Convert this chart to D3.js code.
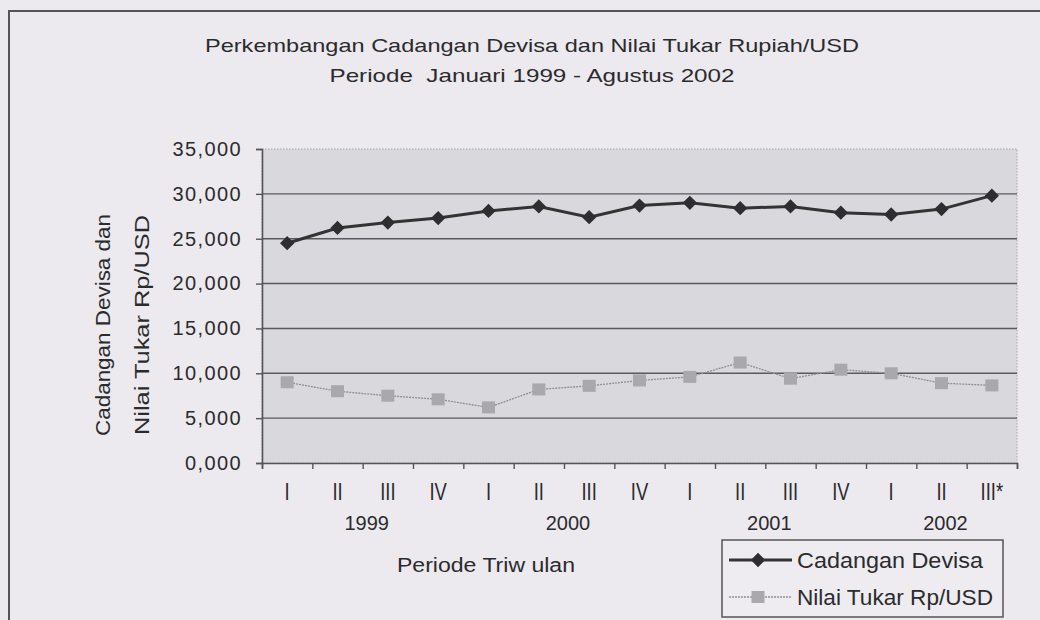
<!DOCTYPE html>
<html>
<head>
<meta charset="utf-8">
<script src="https://cdn.jsdelivr.net/npm/d3@7"></script>
<style>
  body { margin: 0; background: #eceaef; }
  svg { display: block; font-family: "Liberation Sans", Arial, sans-serif; }
</style>
</head>
<body>
<div id="chart"></div>
<script>
// data
const quarters = ["I", "II", "III", "IV", "I", "II", "III", "IV", "I", "II", "III", "IV", "I", "II", "III*"];
const years = ["1999", "2000", "2001", "2002"];
const yearStart = [0, 4, 8, 12];
const yearEnd = [3, 7, 11, 14];
const cadangan = [24500, 26200, 26800, 27300, 28100, 28600, 27400, 28700, 29000, 28400, 28600, 27900, 27700, 28300, 29800];
const nilaiTukar = [9000, 8000, 7500, 7100, 6200, 8200, 8600, 9200, 9600, 11200, 9400, 10400, 10000, 8900, 8650];
const yTicks = [0, 5000, 10000, 15000, 20000, 25000, 30000, 35000];
const yTickLabels = ["0,000", "5,000", "10,000", "15,000", "20,000", "25,000", "30,000", "35,000"];
const seriesNames = ["Cadangan Devisa", "Nilai Tukar Rp/USD"];

const W = 1040, H = 620;
const plot = { left: 262, right: 1017, top: 149, bottom: 463 };
const ink = "#2b2b2d";

const svg = d3.select("#chart").append("svg")
  .attr("width", W).attr("height", H);

svg.append("rect").attr("width", W).attr("height", H).attr("fill", "#eceaef");

// outer frame (runs off the right and bottom edges)
svg.append("path")
  .attr("d", `M9,${H + 5}V11H${W + 5}`)
  .attr("fill", "none").attr("stroke", "#555").attr("stroke-width", 2);

const x = d3.scaleBand().domain(d3.range(quarters.length)).range([plot.left, plot.right]);
const xEdge = d3.scaleLinear().domain([0, quarters.length]).range([plot.left, plot.right]);
const y = d3.scaleLinear().domain([0, 35000]).range([plot.bottom, plot.top]);
const cx = i => x(i) + x.bandwidth() / 2;

// plot area
svg.append("rect")
  .attr("x", plot.left).attr("y", plot.top)
  .attr("width", plot.right - plot.left).attr("height", plot.bottom - plot.top)
  .attr("fill", "#d9d8dc")
  .attr("stroke", "#a9a8ad").attr("stroke-dasharray", "1.5,1.5");

// gridlines
svg.append("g")
  .selectAll("line")
  .data(yTicks.filter(v => v > 0 && v < 35000))
  .join("line")
  .attr("x1", plot.left).attr("x2", plot.right)
  .attr("y1", d => y(d)).attr("y2", d => y(d))
  .attr("stroke", "#5a5a5e").attr("stroke-width", 1.4);

// y axis
const yAxis = svg.append("g")
  .attr("transform", `translate(${plot.left},0)`)
  .call(d3.axisLeft(y).tickValues(yTicks).tickSize(6).tickPadding(14)
    .tickFormat((d, i) => yTickLabels[i]));
yAxis.select(".domain").attr("stroke", "#555").attr("stroke-width", 1.6);
yAxis.selectAll(".tick line").attr("stroke", "#555").attr("stroke-width", 1.4);
yAxis.selectAll(".tick text")
  .attr("fill", ink).style("font-size", "20px").style("letter-spacing", "1.4px");

// x axis: ticks on category edges
const xAxis = svg.append("g")
  .attr("transform", `translate(0,${plot.bottom})`)
  .call(d3.axisBottom(xEdge).tickValues(d3.range(quarters.length + 1)).tickSize(6).tickFormat(""));
xAxis.select(".domain").attr("stroke", "#555").attr("stroke-width", 1.6);
xAxis.selectAll(".tick line").attr("stroke", "#555").attr("stroke-width", 1.4);

svg.append("g")
  .selectAll("text")
  .data(quarters)
  .join("text")
  .attr("transform", (d, i) => `translate(${cx(i)},500) scale(0.8,1)`)
  .attr("text-anchor", "middle")
  .attr("fill", ink).style("font-size", "23px")
  .text(d => d);

svg.append("g")
  .selectAll("text")
  .data(years)
  .join("text")
  .attr("x", (d, i) => (cx(yearStart[i]) + cx(yearEnd[i])) / 2 + 4)
  .attr("y", 530)
  .attr("text-anchor", "middle")
  .attr("fill", ink).style("font-size", "20px")
  .text(d => d);

// lines
const line = d3.line().x((d, i) => cx(i)).y(d => y(d));

svg.append("path")
  .datum(nilaiTukar)
  .attr("d", line)
  .attr("fill", "none").attr("stroke", "#8f8f93").attr("stroke-width", 1.3)
  .attr("stroke-dasharray", "2,1");

svg.append("g")
  .selectAll("rect")
  .data(nilaiTukar)
  .join("rect")
  .attr("x", (d, i) => cx(i) - 6.5).attr("y", d => y(d) - 6)
  .attr("width", 13).attr("height", 12)
  .attr("fill", "#a9a8ac");

svg.append("path")
  .datum(cadangan)
  .attr("d", line)
  .attr("fill", "none").attr("stroke", "#333").attr("stroke-width", 3);

const diamond = d3.symbol().type(d3.symbolDiamond2).size(130);
svg.append("g")
  .selectAll("path")
  .data(cadangan)
  .join("path")
  .attr("transform", (d, i) => `translate(${cx(i)},${y(d)})`)
  .attr("d", diamond)
  .attr("fill", "#2e2e30");

// titles
svg.append("text")
  .attr("x", 532).attr("y", 52)
  .attr("text-anchor", "middle")
  .attr("fill", ink).style("font-size", "19px")
  .attr("textLength", 654).attr("lengthAdjust", "spacingAndGlyphs")
  .text("Perkembangan Cadangan Devisa dan Nilai Tukar Rupiah/USD");

svg.append("text")
  .attr("x", 532).attr("y", 82)
  .attr("text-anchor", "middle")
  .attr("fill", ink).style("font-size", "19px").style("white-space", "pre")
  .attr("textLength", 405).attr("lengthAdjust", "spacingAndGlyphs")
  .text("Periode  Januari 1999 - Agustus 2002");

svg.append("text")
  .attr("x", 486).attr("y", 572)
  .attr("text-anchor", "middle")
  .attr("fill", ink).style("font-size", "20px")
  .attr("textLength", 178).attr("lengthAdjust", "spacingAndGlyphs")
  .text("Periode Triw ulan");

const yTitle = svg.append("g").attr("transform", "translate(0,325) rotate(-90)");
yTitle.append("text")
  .attr("x", 0).attr("y", 110)
  .attr("text-anchor", "middle")
  .attr("fill", ink).style("font-size", "20px")
  .attr("textLength", 222).attr("lengthAdjust", "spacingAndGlyphs")
  .text("Cadangan Devisa dan");
yTitle.append("text")
  .attr("x", 0).attr("y", 149)
  .attr("text-anchor", "middle")
  .attr("fill", ink).style("font-size", "20px")
  .attr("textLength", 220).attr("lengthAdjust", "spacingAndGlyphs")
  .text("Nilai Tukar Rp/USD");

// legend
const legend = svg.append("g").attr("transform", "translate(722,540)");
legend.append("rect")
  .attr("width", 281).attr("height", 77)
  .attr("fill", "#eeecf0").attr("stroke", "#555").attr("stroke-width", 1.5);

const rowY = [20, 57];
legend.append("line")
  .attr("x1", 7).attr("x2", 70).attr("y1", rowY[0]).attr("y2", rowY[0])
  .attr("stroke", "#333").attr("stroke-width", 3);
legend.append("path")
  .attr("transform", `translate(36,${rowY[0]})`)
  .attr("d", diamond).attr("fill", "#2e2e30");
legend.append("line")
  .attr("x1", 7).attr("x2", 70).attr("y1", rowY[1]).attr("y2", rowY[1])
  .attr("stroke", "#8f8f93").attr("stroke-width", 1.3).attr("stroke-dasharray", "2,1");
legend.append("rect")
  .attr("x", 36 - 6.5).attr("y", rowY[1] - 6).attr("width", 13).attr("height", 12)
  .attr("fill", "#a9a8ac");

legend.selectAll("text.lbl")
  .data(seriesNames)
  .join("text")
  .attr("class", "lbl")
  .attr("x", 75).attr("y", (d, i) => rowY[i] + 8)
  .attr("fill", ink).style("font-size", "22px")
  .attr("textLength", (d, i) => [186, 196][i]).attr("lengthAdjust", "spacingAndGlyphs")
  .text(d => d);
</script>
</body>
</html>
